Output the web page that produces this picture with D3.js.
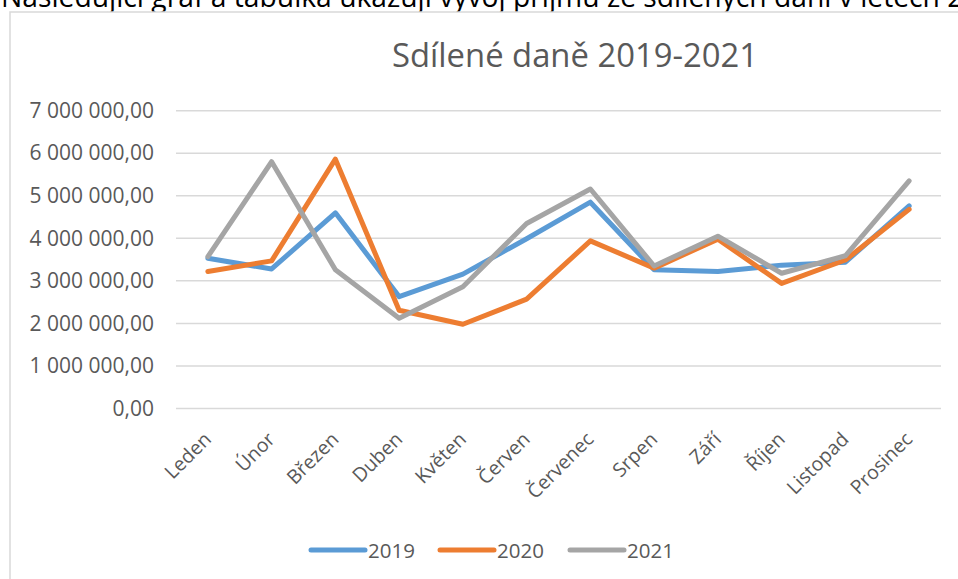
<!DOCTYPE html>
<html>
<head>
<meta charset="utf-8">
<script src="https://cdn.jsdelivr.net/npm/d3@7"></script>
<style>
  body { margin: 0; background: #fff; overflow: hidden; }
  svg { display: block; font-family: "Open Sans", sans-serif; }
</style>
</head>
<body>
<div id="chart"></div>
<script>
// months (categories)
var months = ["Leden", "Únor", "Březen", "Duben", "Květen", "Červen",
              "Červenec", "Srpen", "Září", "Říjen", "Listopad", "Prosinec"];

// series
var years = ["2019", "2020", "2021"];
var values2019 = [3530000, 3280000, 4600000, 2630000, 3160000, 3990000,
                  4850000, 3260000, 3220000, 3370000, 3440000, 4760000];
var values2020 = [3220000, 3470000, 5860000, 2310000, 1980000, 2570000,
                  3940000, 3300000, 3980000, 2940000, 3490000, 4680000];
var values2021 = [3570000, 5800000, 3260000, 2120000, 2860000, 4350000,
                  5160000, 3350000, 4050000, 3180000, 3590000, 5350000];
var yTicks = [0, 1000000, 2000000, 3000000, 4000000, 5000000, 6000000, 7000000];

var colors = ["#5B9BD5", "#ED7D31", "#A5A5A5"];
var series = [values2019, values2020, values2021];

var W = 958, H = 579;
var margin = { top: 110.7, left: 176, right: 17, bottom: 170.5 },
    width = W - margin.left - margin.right,
    height = H - margin.top - margin.bottom;

var svg = d3.select("#chart").append("svg")
    .attr("width", W)
    .attr("height", H);

// text line above the chart, cut off by the window top
// size it so that "...v letech 2" reaches the right edge like in the picture
var intro = "Následující graf a tabulka ukazují vývoj příjmů ze sdílených daní v letech 2";
var introText = svg.append("text")
  .attr("x", 1)
  .attr("y", 7)
  .attr("font-size", 20)
  .attr("fill", "#000")
  .text(intro);
var introLen = introText.node().getComputedTextLength();
introText
  .attr("font-size", 20 * 963 / introLen)
  .text(intro + "019–2021.");

// chart frame
svg.append("rect")
  .attr("x", 10)
  .attr("y", 12)
  .attr("width", 1000)
  .attr("height", 700)
  .attr("fill", "#fff")
  .attr("stroke", "#D9D9D9")
  .attr("stroke-width", 1.5);

svg.append("text")
  .attr("x", 575)
  .attr("y", 67)
  .attr("text-anchor", "middle")
  .attr("font-size", 32.8)
  .attr("fill", "#595959")
  .text("Sdílené daně 2019-2021");

var g = svg.append("g")
  .attr("transform", "translate(" + margin.left + "," + margin.top + ")");

var xScale = d3.scalePoint()
  .domain(months)
  .range([0, width])
  .padding(0.5);

var yScale = d3.scaleLinear()
  .domain([0, 7000000])
  .range([height, 0]);

var cz = d3.formatLocale({ decimal: ",", thousands: " ", grouping: [3], currency: ["", " Kč"] });
var fmt = cz.format(",.2f");

// gridlines
g.selectAll(".grid")
  .data(yTicks)
  .enter().append("line")
  .attr("class", "grid")
  .attr("x1", 0)
  .attr("x2", width)
  .attr("y1", function (d) { return yScale(d); })
  .attr("y2", function (d) { return yScale(d); })
  .attr("stroke", "#D9D9D9")
  .attr("stroke-width", 1.5);

// y axis
var yAxis = d3.axisLeft(yScale)
  .tickValues(yTicks)
  .tickFormat(fmt)
  .tickSize(0)
  .tickPadding(22);

g.append("g")
  .attr("class", "y-axis")
  .call(yAxis)
  .call(function (a) { a.select(".domain").remove(); })
  .selectAll("text")
  .attr("font-family", "Open Sans")
  .attr("font-size", 21)
  .attr("fill", "#595959");

// x axis
var xAxis = d3.axisBottom(xScale).tickSize(0).tickPadding(0);

g.append("g")
  .attr("class", "x-axis")
  .attr("transform", "translate(0," + height + ")")
  .call(xAxis)
  .call(function (a) { a.select(".domain").remove(); })
  .selectAll("text")
  .attr("font-family", "Open Sans")
  .attr("font-size", 19.5)
  .attr("fill", "#595959")
  .attr("text-anchor", "end")
  .attr("dy", 0)
  .attr("transform", "translate(4,32) rotate(-45)");

// lines
var line = d3.line()
  .x(function (d, i) { return xScale(months[i]); })
  .y(function (d) { return yScale(d); });

g.selectAll(".series")
  .data(series)
  .enter().append("path")
  .attr("class", "series")
  .attr("d", line)
  .attr("fill", "none")
  .attr("stroke", function (d, i) { return colors[i]; })
  .attr("stroke-width", 5)
  .attr("stroke-linejoin", "round")
  .attr("stroke-linecap", "round");

// legend
var legendX = [311, 440, 570];
var leg = svg.selectAll(".legend")
  .data(years)
  .enter().append("g")
  .attr("class", "legend")
  .attr("transform", function (d, i) { return "translate(" + legendX[i] + ",550)"; });

leg.append("line")
  .attr("x1", 0)
  .attr("x2", 54)
  .attr("stroke", function (d, i) { return colors[i]; })
  .attr("stroke-width", 5)
  .attr("stroke-linecap", "round");

leg.append("text")
  .attr("x", 57)
  .attr("y", 7.5)
  .attr("font-size", 20.5)
  .attr("fill", "#595959")
  .text(function (d) { return d; });
</script>
</body>
</html>
